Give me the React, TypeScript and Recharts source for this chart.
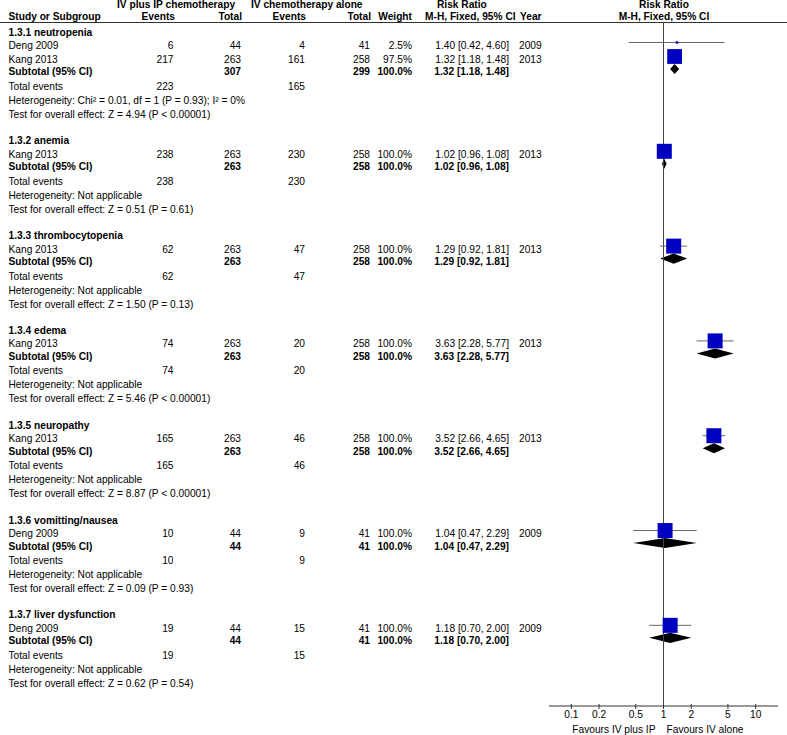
import {
  ComposedChart,
  XAxis,
  YAxis,
  Scatter,
  Line,
  Area,
  ReferenceLine,
  Customized,
} from 'recharts';

const subgroupNames = [
  '1.3.1 neutropenia',
  '1.3.2 anemia',
  '1.3.3 thrombocytopenia',
  '1.3.4 edema',
  '1.3.5 neuropathy',
  '1.3.6 vomitting/nausea',
  '1.3.7 liver dysfunction',
];
const heterogeneity = [
  'Chi² = 0.01, df = 1 (P = 0.93); I² = 0%',
  'Not applicable',
  'Not applicable',
  'Not applicable',
  'Not applicable',
  'Not applicable',
  'Not applicable',
];
const overallEffect = [
  'Z = 4.94 (P < 0.00001)',
  'Z = 0.51 (P = 0.61)',
  'Z = 1.50 (P = 0.13)',
  'Z = 5.46 (P < 0.00001)',
  'Z = 8.87 (P < 0.00001)',
  'Z = 0.09 (P = 0.93)',
  'Z = 0.62 (P = 0.54)',
];
const subtotalRR = [1.32, 1.02, 1.29, 3.63, 3.52, 1.04, 1.18];
const subtotalLo = [1.18, 0.96, 0.92, 2.28, 2.66, 0.47, 0.7];
const subtotalHi = [1.48, 1.08, 1.81, 5.77, 4.65, 2.29, 2.0];

const studyGroup = [0, 0, 1, 2, 3, 4, 5, 6];
const studyNames = ['Deng 2009', 'Kang 2013', 'Kang 2013', 'Kang 2013', 'Kang 2013', 'Kang 2013', 'Deng 2009', 'Deng 2009'];
const ipEvents = [6, 217, 238, 62, 74, 165, 10, 19];
const ipTotal = [44, 263, 263, 263, 263, 263, 44, 44];
const ivEvents = [4, 161, 230, 47, 20, 46, 9, 15];
const ivTotal = [41, 258, 258, 258, 258, 258, 41, 41];
const studyWeight = [2.5, 97.5, 100, 100, 100, 100, 100, 100];
const studyRR = [1.4, 1.32, 1.02, 1.29, 3.63, 3.52, 1.04, 1.18];
const studyLo = [0.42, 1.18, 0.96, 0.92, 2.28, 2.66, 0.47, 0.7];
const studyHi = [4.6, 1.48, 1.08, 1.81, 5.77, 4.65, 2.29, 2.0];
const studyYear = [2009, 2013, 2013, 2013, 2013, 2013, 2009, 2009];

const xTicks = [0.1, 0.2, 0.5, 1, 2, 5, 10];

const FONT = '"Liberation Sans", Arial, Helvetica, sans-serif';
const FS = 10.2;

// vertical layout in row units (1 unit is about 14px)
const HEAD_TO_STUDY = 0.964;
const STUDY_STEP = 1;
const TO_SUBTOTAL = 0.893;
const TO_TOTAL = 1.036;
const LINE_STEP = 1;
const GROUP_GAP = 1.879;
const Y_MIN = -0.5;
const Y_MAX = 48.357;
const DIAMOND_HALF = 0.36;
const X_MIN = Math.pow(10, -1.242);
const X_MAX = Math.pow(10, 1.242);

const COL = { label: 8.5, ipEv: 173.5, ipTot: 241, ivEv: 305, ivTot: 370, weight: 412, rr: 509, year: 519 };

type Kind = 'head' | 'study' | 'subtotal' | 'events' | 'het' | 'test';
type Row = { x: number; y: number; kind: Kind; g: number; s: number };

const sumBy = (arr: number[], g: number) =>
  arr.reduce((acc, v, i) => (studyGroup[i] === g ? acc + v : acc), 0);
const ci = (rr: number, lo: number, hi: number) =>
  `${rr.toFixed(2)} [${lo.toFixed(2)}, ${hi.toFixed(2)}]`;

function buildRows(): Row[] {
  const rows: Row[] = [];
  let y = 0;
  subgroupNames.forEach((_, g) => {
    rows.push({ x: 1, y, kind: 'head', g, s: -1 });
    let first = true;
    studyGroup.forEach((sg, s) => {
      if (sg !== g) return;
      y += first ? HEAD_TO_STUDY : STUDY_STEP;
      first = false;
      rows.push({ x: 1, y, kind: 'study', g, s });
    });
    y += TO_SUBTOTAL;
    rows.push({ x: 1, y, kind: 'subtotal', g, s: -1 });
    y += TO_TOTAL;
    rows.push({ x: 1, y, kind: 'events', g, s: -1 });
    y += LINE_STEP;
    rows.push({ x: 1, y, kind: 'het', g, s: -1 });
    y += LINE_STEP;
    rows.push({ x: 1, y, kind: 'test', g, s: -1 });
    y += GROUP_GAP;
  });
  return rows;
}

const rows = buildRows();
const studyY = studyGroup.map((_, s) => rows.find((r) => r.kind === 'study' && r.s === s)!.y);
const subtotalY = subgroupNames.map((_, g) => rows.find((r) => r.kind === 'subtotal' && r.g === g)!.y);

const squareData = studyRR.map((rr, i) => ({ x: rr, y: studyY[i], w: studyWeight[i] }));

function RowText(props: any) {
  const { cy, payload } = props;
  const r: Row = payload;
  const y = cy + 6.5;
  const t = (x: number, txt: string | number, anchor: 'start' | 'end' = 'end') => (
    <text x={x} y={y} textAnchor={anchor}>{txt}</text>
  );
  let content: any = null;
  if (r.kind === 'head') {
    content = <g fontWeight="bold">{t(COL.label, subgroupNames[r.g], 'start')}</g>;
  } else if (r.kind === 'study') {
    const s = r.s;
    content = (
      <g>
        {t(COL.label, studyNames[s], 'start')}
        {t(COL.ipEv, ipEvents[s])}
        {t(COL.ipTot, ipTotal[s])}
        {t(COL.ivEv, ivEvents[s])}
        {t(COL.ivTot, ivTotal[s])}
        {t(COL.weight, `${studyWeight[s].toFixed(1)}%`)}
        {t(COL.rr, ci(studyRR[s], studyLo[s], studyHi[s]))}
        {t(COL.year, studyYear[s], 'start')}
      </g>
    );
  } else if (r.kind === 'subtotal') {
    content = (
      <g fontWeight="bold">
        {t(COL.label, 'Subtotal (95% CI)', 'start')}
        {t(COL.ipTot, sumBy(ipTotal, r.g))}
        {t(COL.ivTot, sumBy(ivTotal, r.g))}
        {t(COL.weight, '100.0%')}
        {t(COL.rr, ci(subtotalRR[r.g], subtotalLo[r.g], subtotalHi[r.g]))}
      </g>
    );
  } else if (r.kind === 'events') {
    content = (
      <g>
        {t(COL.label, 'Total events', 'start')}
        {t(COL.ipEv, sumBy(ipEvents, r.g))}
        {t(COL.ivEv, sumBy(ivEvents, r.g))}
      </g>
    );
  } else if (r.kind === 'het') {
    content = t(COL.label, `Heterogeneity: ${heterogeneity[r.g]}`, 'start');
  } else {
    content = t(COL.label, `Test for overall effect: ${overallEffect[r.g]}`, 'start');
  }
  return (
    <g fontFamily={FONT} fontSize={FS} fill="#000">
      {content}
    </g>
  );
}

function StudySquare(props: any) {
  const { cx, cy, payload } = props;
  const side = 15 * Math.sqrt(payload.w / 100);
  return <rect x={cx - side / 2} y={cy - side / 2} width={side} height={side} fill="#0000C0" />;
}

function AxisTick(props: any) {
  const { x, y, payload } = props;
  return (
    <g fontFamily={FONT} fontSize={FS} fill="#000">
      <line x1={x} x2={x} y1={y - 2} y2={y + 3} stroke="#333" />
      <text x={x} y={y + 12} textAnchor="middle">{payload.value}</text>
      {payload.value === 1 && (
        <>
          <text x={x - 8} y={y + 27} textAnchor="end">Favours IV plus IP</text>
          <text x={x + 3} y={y + 27} textAnchor="start">Favours IV alone</text>
        </>
      )}
    </g>
  );
}

function Headers() {
  return (
    <g fontFamily={FONT} fontSize={FS} fontWeight="bold" fill="#000">
      <text x={117} y={8}>IV plus IP chemotherapy</text>
      <text x={251} y={8}>IV chemotherapy alone</text>
      <text x={437} y={8}>Risk Ratio</text>
      <text x={664} y={8} textAnchor="middle">Risk Ratio</text>
      <text x={8.5} y={19.5}>Study or Subgroup</text>
      <text x={175} y={19.5} textAnchor="end">Events</text>
      <text x={242} y={19.5} textAnchor="end">Total</text>
      <text x={306} y={19.5} textAnchor="end">Events</text>
      <text x={371} y={19.5} textAnchor="end">Total</text>
      <text x={412} y={19.5} textAnchor="end">Weight</text>
      <text x={425} y={19.5}>M-H, Fixed, 95% CI</text>
      <text x={520} y={19.5}>Year</text>
      <text x={664} y={19.5} textAnchor="middle">M-H, Fixed, 95% CI</text>
      <line x1={0} x2={787} y1={22.5} y2={22.5} stroke="#333" strokeWidth={1} />
    </g>
  );
}

export default function App() {
  return (
    <div style={{ position: 'absolute', left: 0, top: 0, width: 787, height: 735, background: '#fff' }}>
      <ComposedChart width={787} height={735} margin={{ top: 22, right: 9, bottom: 0, left: 549 }}>
        <XAxis
          type="number"
          dataKey="x"
          scale="log"
          domain={[X_MIN, X_MAX]}
          ticks={xTicks}
          interval={0}
          tick={<AxisTick />}
          tickLine={false}
          tickSize={0}
          tickMargin={0}
          height={29}
          axisLine={{ stroke: '#333' }}
        />
        <YAxis type="number" dataKey="y" domain={[Y_MIN, Y_MAX]} reversed hide />
        <ReferenceLine x={1} stroke="#444" strokeWidth={1} />
        {studyRR.map((_, i) => (
          <Line
            key={`ci-${i}`}
            data={[
              { x: studyLo[i], y: studyY[i] },
              { x: studyHi[i], y: studyY[i] },
            ]}
            dataKey="y"
            type="linear"
            stroke="#666"
            strokeWidth={1}
            dot={false}
            activeDot={false}
            isAnimationActive={false}
          />
        ))}
        {subtotalRR.map((rr, g) => (
          <Area
            key={`dia-${g}`}
            data={[
              { x: subtotalLo[g], band: [subtotalY[g], subtotalY[g]] },
              { x: rr, band: [subtotalY[g] - DIAMOND_HALF, subtotalY[g] + DIAMOND_HALF] },
              { x: subtotalHi[g], band: [subtotalY[g], subtotalY[g]] },
            ]}
            dataKey="band"
            type="linear"
            stroke="none"
            fill="#000"
            fillOpacity={1}
            dot={false}
            activeDot={false}
            isAnimationActive={false}
          />
        ))}
        <Scatter data={squareData} shape={<StudySquare />} isAnimationActive={false} />
        <Scatter data={rows} shape={<RowText />} isAnimationActive={false} />
        <Customized component={<Headers />} />
      </ComposedChart>
    </div>
  );
}
